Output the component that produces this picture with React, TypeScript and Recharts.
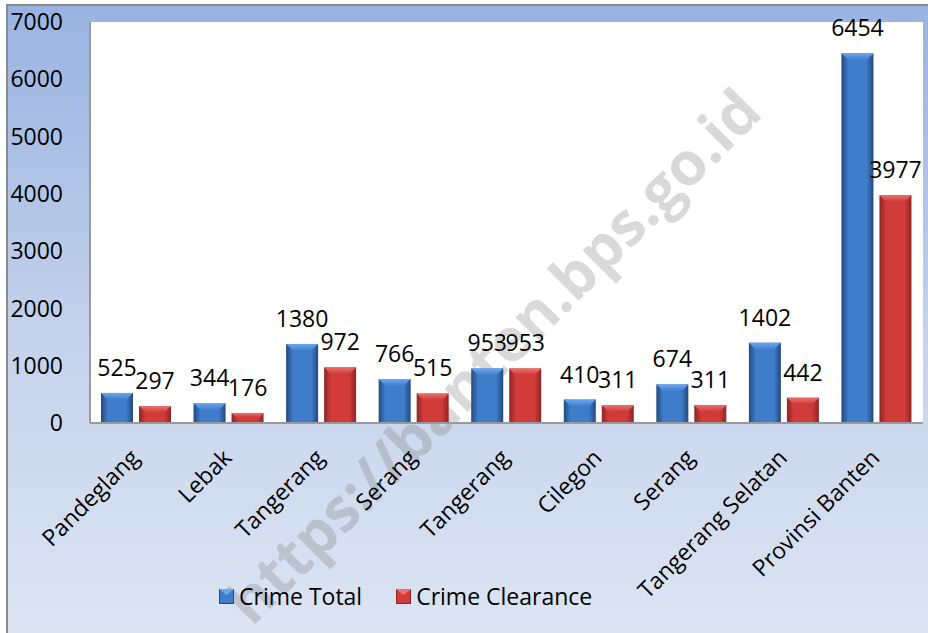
import React from "react";
import { BarChart, Bar, XAxis, YAxis, LabelList } from "recharts";

const regions = [
  "Pandeglang",
  "Lebak",
  "Tangerang",
  "Serang",
  "Tangerang",
  "Cilegon",
  "Serang",
  "Tangerang Selatan",
  "Provinsi Banten",
];
const crimeTotal = [525, 344, 1380, 766, 953, 410, 674, 1402, 6454];
const crimeClearance = [297, 176, 972, 515, 953, 311, 311, 442, 3977];
const yTicks = [0, 1000, 2000, 3000, 4000, 5000, 6000, 7000];

const data = regions.map((name, i) => ({
  idx: i,
  name,
  total: crimeTotal[i],
  clearance: crimeClearance[i],
}));

const FONT = "'Open Sans', 'Noto Sans', sans-serif";
const FS = 23;

const tones: Record<string, { edge: string; mid: string; top: string; topEdge: string }> = {
  blue: { edge: "#23497f", mid: "#3f7dcb", top: "#6aa7ee", topEdge: "#3f7dcb" },
  red: { edge: "#8e2524", mid: "#d13c3b", top: "#ee706c", topEdge: "#c93937" },
};

function BevelBar(props: any) {
  const { x, y, width, height, tone } = props;
  if (!height || height <= 0) return null;
  const b = Math.min(7, height / 2, width / 2);
  return (
    <g>
      <rect x={x} y={y} width={width} height={height} fill={`url(#side-${tone})`} />
      <polygon
        points={`${x},${y} ${x + width},${y} ${x + width - b},${y + b} ${x + b},${y + b}`}
        fill={`url(#top-${tone})`}
      />
    </g>
  );
}

function AngledTick(props: any) {
  const { x, y, payload } = props;
  return (
    <g transform={`translate(${x - 8},${y + 16})`}>
      <text
        transform="rotate(-45)"
        textAnchor="end"
        dy="0.75em"
        fontSize={FS}
        fontFamily={FONT}
        fill="#000"
      >
        {regions[payload.value]}
      </text>
    </g>
  );
}

function LegendIcon({ tone }: { tone: string }) {
  const t = tones[tone];
  return (
    <svg width={15} height={15} style={{ marginRight: 5 }}>
      <rect x={0.5} y={0.5} width={14} height={14} fill={t.mid} stroke={t.edge} />
      <polygon points="0,0 15,0 7.5,6" fill={t.top} />
    </svg>
  );
}

export default function App() {
  return (
    <div
      style={{
        position: "fixed",
        left: 0,
        top: 0,
        width: 928,
        height: 633,
        overflow: "hidden",
        fontFamily: FONT,
      }}
    >
      <div
        style={{
          position: "absolute",
          left: 6,
          top: 4,
          width: 922,
          height: 629,
          borderLeft: "2px solid #8a8a8a",
          borderTop: "2px solid #8a8a8a",
          background: "linear-gradient(to bottom, #99b3e1 0%, #c6d3ec 55%, #dde5f3 100%)",
        }}
      />
      <div
        style={{
          position: "absolute",
          left: 90,
          top: 22,
          width: 833,
          height: 401,
          background: "#ffffff",
        }}
      />
      <div
        style={{
          position: "absolute",
          left: 492,
          top: 355,
          transform: "translate(-50%, -50%) rotate(-45deg)",
          whiteSpace: "nowrap",
          fontSize: 60,
          fontWeight: 700,
          color: "rgba(120,120,120,0.28)",
          fontFamily: FONT,
        }}
      >
        https://banten.bps.go.id
      </div>
      <div style={{ position: "absolute", left: 0, top: 0 }}>
        <BarChart
          width={928}
          height={633}
          data={data}
          margin={{ top: 22, right: 5, left: 0, bottom: 0 }}
          barSize={32}
          barGap={6}
        >
          <defs>
            {Object.keys(tones).map((k) => (
              <React.Fragment key={k}>
                <linearGradient id={`side-${k}`} x1="0" y1="0" x2="1" y2="0">
                  <stop offset="0%" stopColor={tones[k].edge} />
                  <stop offset="22%" stopColor={tones[k].mid} />
                  <stop offset="78%" stopColor={tones[k].mid} />
                  <stop offset="100%" stopColor={tones[k].edge} />
                </linearGradient>
                <linearGradient id={`top-${k}`} x1="0" y1="0" x2="0" y2="1">
                  <stop offset="0%" stopColor={tones[k].top} />
                  <stop offset="100%" stopColor={tones[k].topEdge} />
                </linearGradient>
              </React.Fragment>
            ))}
          </defs>
          <XAxis
            dataKey="idx"
            type="category"
            height={210}
            interval={0}
            tickLine={false}
            axisLine={{ stroke: "#9a9a9a", strokeWidth: 2 }}
            tick={<AngledTick />}
          />
          <YAxis
            width={90}
            domain={[0, 7000]}
            ticks={yTicks}
            interval={0}
            tickLine={false}
            tickSize={0}
            tickMargin={27}
            axisLine={{ stroke: "#9a9a9a", strokeWidth: 2 }}
            tick={{ fontSize: FS, fill: "#000", fontFamily: FONT }}
          />
          <Bar
            dataKey="total"
            name="Crime Total"
            isAnimationActive={false}
            shape={(p: any) => <BevelBar {...p} tone="blue" />}
          >
            <LabelList
              dataKey="total"
              position="top"
              offset={17}
              fontSize={FS}
              fill="#000"
              fontFamily={FONT}
            />
          </Bar>
          <Bar
            dataKey="clearance"
            name="Crime Clearance"
            isAnimationActive={false}
            shape={(p: any) => <BevelBar {...p} tone="red" />}
          >
            <LabelList
              dataKey="clearance"
              position="top"
              offset={17}
              fontSize={FS}
              fill="#000"
              fontFamily={FONT}
            />
          </Bar>
        </BarChart>
      </div>
      <div
        style={{
          position: "absolute",
          left: 219,
          top: 580,
          display: "flex",
          alignItems: "center",
          fontSize: FS,
          color: "#000",
        }}
      >
        <LegendIcon tone="blue" />
        <span style={{ marginRight: 34 }}>Crime Total</span>
        <LegendIcon tone="red" />
        <span>Crime Clearance</span>
      </div>
    </div>
  );
}
